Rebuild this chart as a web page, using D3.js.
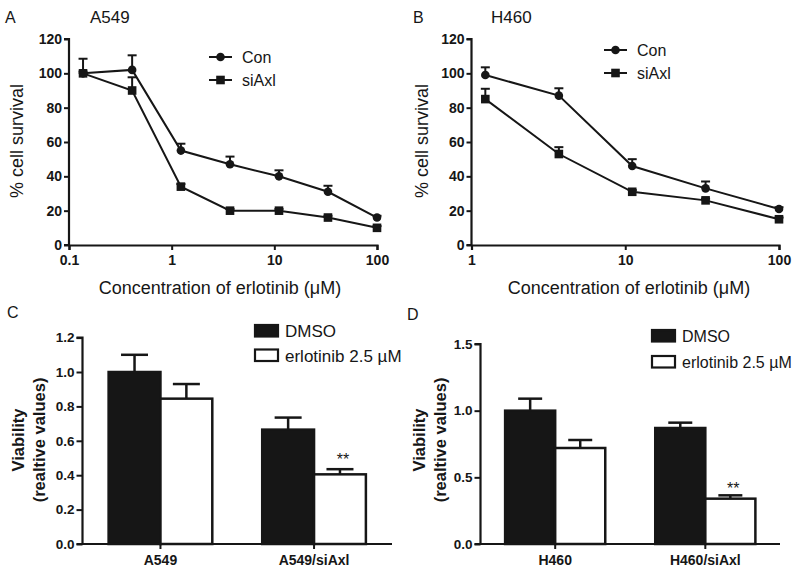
<!DOCTYPE html>
<html><head><meta charset="utf-8">
<script src="https://cdn.jsdelivr.net/npm/d3@7"></script>
<style>
html,body{margin:0;padding:0;background:#fff;}
svg{display:block;font-family:"Liberation Sans",Arial,sans-serif;}
</style></head>
<body><svg id="chart" width="800" height="572"></svg>
<script>
// ---- Data ----
const concA = [0.137, 0.412, 1.23, 3.7, 11.1, 33.3, 100];
const conA = [100, 102, 55, 47, 40, 31, 16];
const conAErr = [8.5, 8.5, 4, 4.5, 3.5, 3.5, 1];
const siAxlA = [100, 90, 34, 20, 20, 16, 10];
const siAxlAErr = [1, 7.7, 1.5, 1, 1, 1, 1];

const concB = [1.23, 3.7, 11.1, 33.3, 100];
const conB = [99, 87, 46, 33, 21];
const conBErr = [4.5, 4.3, 4, 4, 1];
const siAxlB = [85, 53, 31, 26, 15];
const siAxlBErr = [6, 4, 1, 1, 1];

const yTicksLine = [0, 20, 40, 60, 80, 100, 120];
const xTicksA = [0.1, 1, 10, 100];
const xTicksB = [1, 10, 100];

const groupsC = ["A549", "A549/siAxl"];
const dmsoC = [1.0, 0.665];
const dmsoCErr = [0.1, 0.07];
const erlC = [0.845, 0.405];
const erlCErr = [0.085, 0.03];
const yTicksC = [0, 0.2, 0.4, 0.6, 0.8, 1.0, 1.2];

const groupsD = ["H460", "H460/siAxl"];
const dmsoD = [1.0, 0.87];
const dmsoDErr = [0.09, 0.04];
const erlD = [0.72, 0.34];
const erlDErr = [0.06, 0.025];
const yTicksD = [0, 0.5, 1.0, 1.5];

const seriesNames = ["Con", "siAxl"];
const barNames = ["DMSO", "erlotinib 2.5 µM"];

// ---- Drawing ----
const svg = d3.select("#chart");
svg.append("rect").attr("width", 800).attr("height", 572).attr("fill", "#fff");
const INK = "#161616";

function styleAxis(g, fs) {
  g.selectAll(".domain").attr("stroke", INK).attr("stroke-width", 2.2);
  g.selectAll(".tick line").attr("stroke", INK).attr("stroke-width", 2);
  g.selectAll(".tick text").attr("fill", INK).attr("font-size", fs)
    .attr("font-weight", "bold").attr("font-family", '"Liberation Sans",Arial,sans-serif');
}

function linePanel(opt) {
  const x = d3.scaleLog().domain(opt.xDomain).range(opt.xRange);
  const y = d3.scaleLinear().domain([0, 120]).range([245, 39]);
  const g = svg.append("g");
  const xa = g.append("g").attr("transform", `translate(0,${y(0)})`)
    .call(d3.axisBottom(x).tickValues(opt.xTicks).tickFormat(d => String(d)).tickSize(5).tickPadding(5));
  styleAxis(xa, 14);
  const ya = g.append("g").attr("transform", `translate(${opt.xRange[0]},0)`)
    .call(d3.axisLeft(y).tickValues(yTicksLine).tickFormat(d3.format("d")).tickSize(5).tickPadding(2));
  styleAxis(ya, 14);
  ya.selectAll(".domain").attr("d", `M-5,${y(0)}H0V${y(120)}H-5`);

  const series = [
    {name: seriesNames[0], vals: opt.con, err: opt.conErr, shape: "circle"},
    {name: seriesNames[1], vals: opt.si, err: opt.siErr, shape: "square"}
  ];
  series.forEach(s => {
    const pts = opt.conc.map((c, i) => ({c, v: s.vals[i], e: s.err[i]}));
    const eg = g.append("g").attr("stroke", INK).attr("stroke-width", 2).attr("fill", "none");
    pts.forEach(p => {
      eg.append("line").attr("x1", x(p.c)).attr("x2", x(p.c)).attr("y1", y(p.v)).attr("y2", y(p.v + p.e));
      eg.append("line").attr("x1", x(p.c) - 4.5).attr("x2", x(p.c) + 4.5).attr("y1", y(p.v + p.e)).attr("y2", y(p.v + p.e));
    });
    g.append("path").datum(pts)
      .attr("d", d3.line().x(p => x(p.c)).y(p => y(p.v)))
      .attr("fill", "none").attr("stroke", INK).attr("stroke-width", 2);
    pts.forEach(p => drawMarker(g, s.shape, x(p.c), y(p.v)));
  });

  series.forEach((s, i) => {
    const ly = opt.legY[i];
    g.append("line").attr("x1", opt.legX).attr("x2", opt.legX + 23).attr("y1", ly).attr("y2", ly)
      .attr("stroke", INK).attr("stroke-width", 2);
    drawMarker(g, s.shape, opt.legX + 11.5, ly);
    g.append("text").attr("x", opt.legX + 33).attr("y", ly + 5.8).attr("font-size", 16)
      .attr("fill", INK).text(s.name);
  });

  g.append("text").attr("x", opt.letterX).attr("y", 23).attr("font-size", 16).attr("fill", INK).text(opt.letter);
  g.append("text").attr("x", opt.titleX).attr("y", 23).attr("font-size", 17).attr("fill", INK).text(opt.title);
  g.append("text").attr("x", opt.xTitleX).attr("y", 294).attr("text-anchor", "middle")
    .attr("font-size", 18).attr("fill", INK).text("Concentration of erlotinib (μM)");
  g.append("text").attr("transform", `translate(${opt.yTitleX},141) rotate(-90)`).attr("text-anchor", "middle")
    .attr("font-size", 18).attr("fill", INK).text("% cell survival");
}

function drawMarker(g, shape, cx, cy) {
  if (shape === "circle") {
    g.append("circle").attr("cx", cx).attr("cy", cy).attr("r", 4.3).attr("fill", INK);
  } else {
    g.append("rect").attr("x", cx - 4.3).attr("y", cy - 4.3).attr("width", 8.6).attr("height", 8.6).attr("fill", INK);
  }
}

linePanel({
  xDomain: [0.1, 100], xRange: [69, 377], xTicks: xTicksA, conc: concA,
  con: conA, conErr: conAErr, si: siAxlA, siErr: siAxlAErr,
  legX: 209, legY: [57, 80], letter: "A", letterX: 5, title: "A549", titleX: 90,
  xTitleX: 220, yTitleX: 23
});
linePanel({
  xDomain: [1, 100], xRange: [471.5, 779], xTicks: xTicksB, conc: concB,
  con: conB, conErr: conBErr, si: siAxlB, siErr: siAxlBErr,
  legX: 604, legY: [50, 73], letter: "B", letterX: 413, title: "H460", titleX: 491,
  xTitleX: 629, yTitleX: 428
});

function barPanel(opt) {
  const x0 = d3.scaleBand().domain(opt.groups).range(opt.xRange)
    .paddingInner(opt.pi).paddingOuter(opt.po);
  const x1 = d3.scaleBand().domain(barNames).range([0, x0.bandwidth()]);
  const y = d3.scaleLinear().domain(opt.yDomain).range([544, opt.yTop]);
  const g = svg.append("g");

  const data = opt.groups.map((gname, i) => [
    {g: gname, k: barNames[0], v: opt.dmso[i], e: opt.dmsoErr[i]},
    {g: gname, k: barNames[1], v: opt.erl[i], e: opt.erlErr[i]}
  ]).flat();

  const eg = g.append("g").attr("stroke", INK).attr("stroke-width", 2.5);
  data.forEach(d => {
    const cx = x0(d.g) + x1(d.k) + x1.bandwidth() / 2;
    eg.append("line").attr("x1", cx).attr("x2", cx).attr("y1", y(d.v)).attr("y2", y(d.v + d.e));
    eg.append("line").attr("x1", cx - opt.cap).attr("x2", cx + opt.cap).attr("y1", y(d.v + d.e)).attr("y2", y(d.v + d.e));
  });
  g.append("g").selectAll("rect").data(data).join("rect")
    .attr("x", d => x0(d.g) + x1(d.k))
    .attr("y", d => y(d.v))
    .attr("width", x1.bandwidth())
    .attr("height", d => y(0) - y(d.v))
    .attr("fill", d => d.k === barNames[0] ? INK : "#fff")
    .attr("stroke", INK).attr("stroke-width", 2.5);

  const last = data[3];
  g.append("text").attr("x", x0(last.g) + x1(last.k) + x1.bandwidth() / 2 + 3)
    .attr("y", y(last.v + last.e) + opt.starDy).attr("text-anchor", "middle")
    .attr("font-size", 16).attr("fill", INK).text("**");

  const xa = g.append("g").attr("transform", `translate(0,544)`)
    .call(d3.axisBottom(x0).tickSize(5).tickPadding(6));
  styleAxis(xa, 14);
  xa.selectAll(".domain").attr("d", `M${opt.xRange[0]},0H${opt.xRange[1]}`);
  const ya = g.append("g").attr("transform", `translate(${opt.xRange[0]},0)`)
    .call(d3.axisLeft(y).tickValues(opt.yTicks).tickFormat(d3.format(".1f")).tickSize(6).tickPadding(2));
  styleAxis(ya, 13.5);
  ya.selectAll(".domain").attr("d", `M-6,544H0V${opt.yTop}H-6`);

  barNames.forEach((n, i) => {
    const ry = opt.legY[i];
    g.append("rect").attr("x", opt.legX).attr("y", ry).attr("width", 23).attr("height", 11.5)
      .attr("fill", i === 0 ? INK : "#fff").attr("stroke", INK).attr("stroke-width", 2.2);
    g.append("text").attr("x", opt.legX + 30).attr("y", ry + 12).attr("font-size", opt.legFs)
      .attr("fill", INK).text(n);
  });

  g.append("text").attr("x", opt.letterX).attr("y", opt.letterY).attr("font-size", 16).attr("fill", INK).text(opt.letter);
  const yt = g.append("text").attr("transform", `translate(0,440) rotate(-90)`).attr("text-anchor", "middle")
    .attr("font-size", 16.5).attr("font-weight", "bold").attr("fill", INK);
  yt.append("tspan").attr("x", 0).attr("y", opt.yTitleX1).text("Viability");
  yt.append("tspan").attr("x", 0).attr("y", opt.yTitleX2).text("(realtive values)");
}

barPanel({
  groups: groupsC, dmso: dmsoC, dmsoErr: dmsoCErr, erl: erlC, erlErr: erlCErr,
  xRange: [82.5, 392], pi: 0.325, po: 0.17, yDomain: [0, 1.2], yTop: 337.6, yTicks: yTicksC,
  cap: 13.5, starDy: -4, legX: 255, legY: [325, 349.5], legFs: 17,
  letter: "C", letterX: 7, letterY: 318, yTitleX1: 24, yTitleX2: 45
});
barPanel({
  groups: groupsD, dmso: dmsoD, dmsoErr: dmsoDErr, erl: erlD, erlErr: erlDErr,
  xRange: [480.5, 780], pi: 0.333, po: 0.164, yDomain: [0, 1.5], yTop: 344, yTicks: yTicksD,
  cap: 12, starDy: -1, legX: 652, legY: [330, 356], legFs: 16,
  letter: "D", letterX: 407, letterY: 320, yTitleX1: 425, yTitleX2: 446
});
</script></body></html>
